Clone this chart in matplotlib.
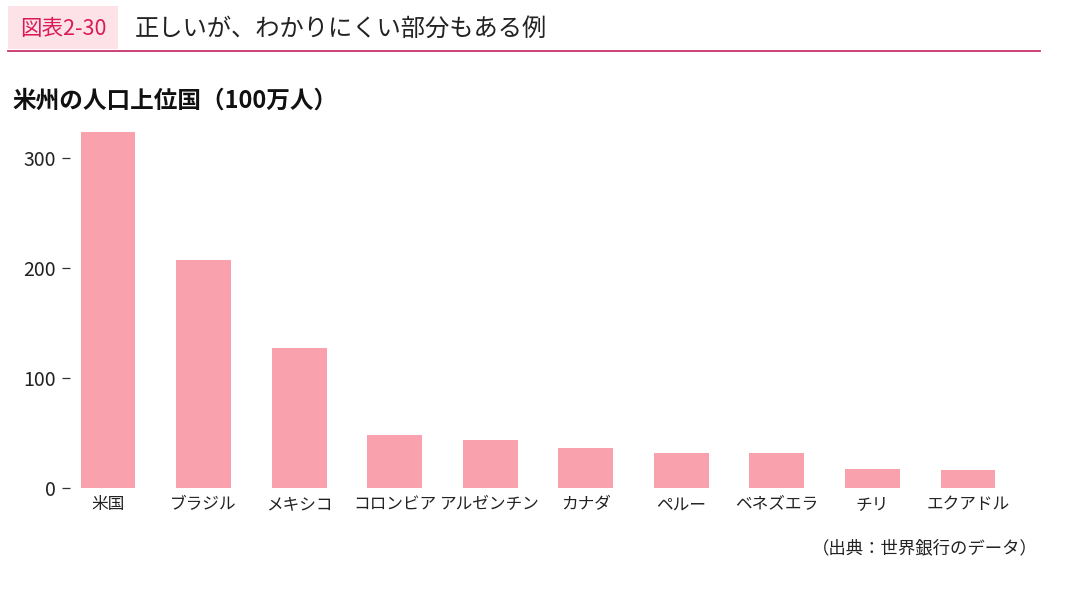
import matplotlib
matplotlib.use("Agg")
from matplotlib import pyplot as plt
from matplotlib.patches import Rectangle
from matplotlib.lines import Line2D
import numpy as np

plt.rcParams['font.family'] = ['Noto Sans CJK JP', 'DejaVu Sans']

# data (millions of people)
countries = ["米国", "ブラジル", "メキシコ", "コロンビア", "アルゼンチン",
             "カナダ", "ペルー", "ベネズエラ", "チリ", "エクアドル"]
population = [324, 207, 127, 48.5, 43.5, 36, 31.5, 31.5, 17.5, 16]
yticks = [0, 100, 200, 300]

bar_col = '#f9a1ac'
accent = '#d81b5b'

W, H = 1080, 600
fig = plt.figure(figsize=(W / 100, H / 100), dpi=100)

def fx(px):
    return px / W

def fy(py):
    return 1 - py / H

# header box + title
fig.patches.append(Rectangle((fx(8), fy(49)), fx(110), 43 / H, transform=fig.transFigure,
                             facecolor='#fde3e7', edgecolor='none', zorder=0))
fig.text(fx(63), fy(29), "図表2-30", color=accent, fontsize=15.5, ha='center', va='center')
fig.text(fx(135), fy(29), "正しいが、わかりにくい部分もある例", color='#222222',
         fontsize=17.5, ha='left', va='center')
fig.lines.append(Line2D([fx(8), fx(1040)], [fy(51), fy(51)], transform=fig.transFigure,
                        color='#c8336b', lw=1.3))

# subtitle
fig.text(fx(12), fy(101), "米州の人口上位国（100万人）", fontsize=17, fontweight='bold',
         color='#111111', ha='left', va='center')

# main axes
ax_l, ax_r, ax_t, ax_b = 70, 1000, 120, 488
ax = fig.add_axes([fx(ax_l), fy(ax_b), (ax_r - ax_l) / W, (ax_b - ax_t) / H])
x = np.arange(len(countries))
ax.bar(x, population, width=0.575, color=bar_col)

step = 95.6
ax.set_xlim(-(108 - ax_l) / step, 9 + (ax_r - 968) / step)
ax.set_ylim(0, (ax_b - ax_t) / 1.1)
ax.set_xticks(x)
ax.set_xticklabels(countries, fontsize=12, color='#222222')
ax.set_yticks(yticks)
ax.set_yticklabels([str(v) for v in yticks], fontsize=14, color='#222222')
ax.tick_params(axis='x', length=0, pad=6)
ax.tick_params(axis='y', length=6, width=0.9, color='#333333', pad=4)
for s in ax.spines.values():
    s.set_visible(False)

# source
fig.text(fx(1038), fy(548), "（出典：世界銀行のデータ）", fontsize=12.5, color='#222222',
         ha='right', va='center')

fig.savefig("out.png", dpi=100, facecolor='white')
